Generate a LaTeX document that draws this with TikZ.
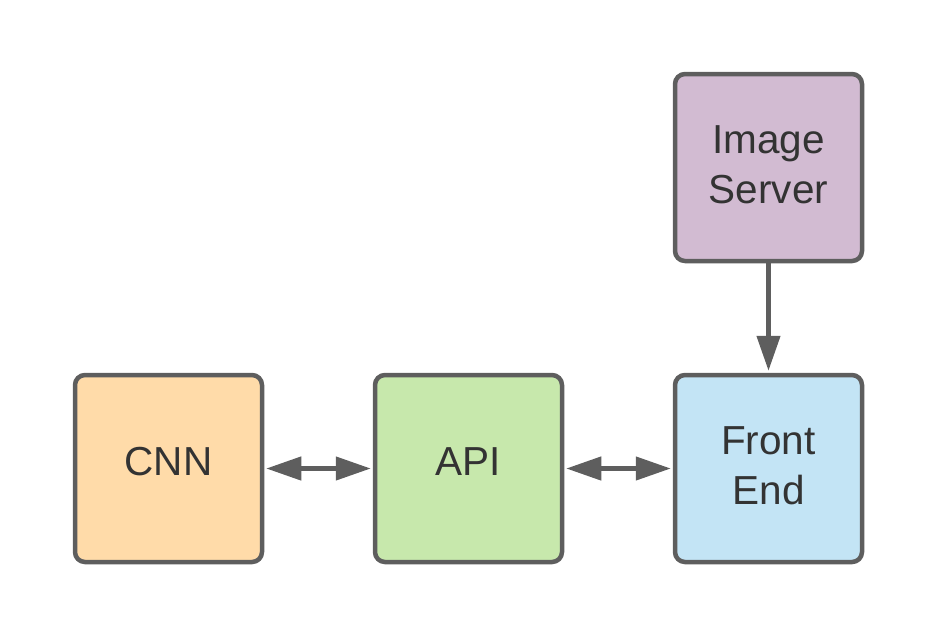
\documentclass[tikz,border=0pt]{standalone}
\usepackage{fontspec}
\setmainfont{Liberation Sans}
\usetikzlibrary{arrows.meta}
\definecolor{edgegray}{HTML}{5E5E5E}
\definecolor{txtgray}{HTML}{333333}
\definecolor{cnnfill}{HTML}{FFDBA9}
\definecolor{apifill}{HTML}{C7E8AC}
\definecolor{frontfill}{HTML}{C3E4F5}
\definecolor{imgfill}{HTML}{D2BBD2}
\tikzset{
  box/.style={draw=edgegray, line width=4.5pt, rounded corners=10pt,
    minimum width=187pt, minimum height=187pt, inner sep=0pt},
  boxtext/.style={align=center, text=txtgray, inner sep=0pt,
    font=\fontsize{40.5}{50}\selectfont},
  conn/.style={draw=edgegray, line width=4.5pt,
    -{Triangle[length=35pt,width=23pt]}, shorten >=2pt},
  biconn/.style={draw=edgegray, line width=4.5pt,
    {Triangle[length=35pt,width=23pt]}-{Triangle[length=35pt,width=23pt]},
    shorten >=2pt, shorten <=2pt}
}
\begin{document}
\begin{tikzpicture}[x=1pt,y=-1pt]
\useasboundingbox (0,0) rectangle (938,638);
\node[box, fill=cnnfill] (cnn) at (168.5,468.5) {};
\node[box, fill=apifill] (api) at (468.5,468.5) {};
\node[box, fill=frontfill] (front) at (768.5,468.5) {};
\node[box, fill=imgfill] (img) at (768.5,167.5) {};
\node[boxtext] (cnnlabel) at ([yshift=7pt]cnn.center) {CNN};
\node[boxtext] (apilabel) at ([yshift=7pt]api.center) {API};
\node[boxtext] (frontlabel) at ([yshift=3pt]front.center) {Front\\End};
\node[boxtext] (imglabel) at ([yshift=3pt]img.center) {Image\\Server};
\draw[biconn] (cnn) -- (api);
\draw[biconn] (api) -- (front);
\draw[conn] (img) -- (front);
\end{tikzpicture}
\end{document}
